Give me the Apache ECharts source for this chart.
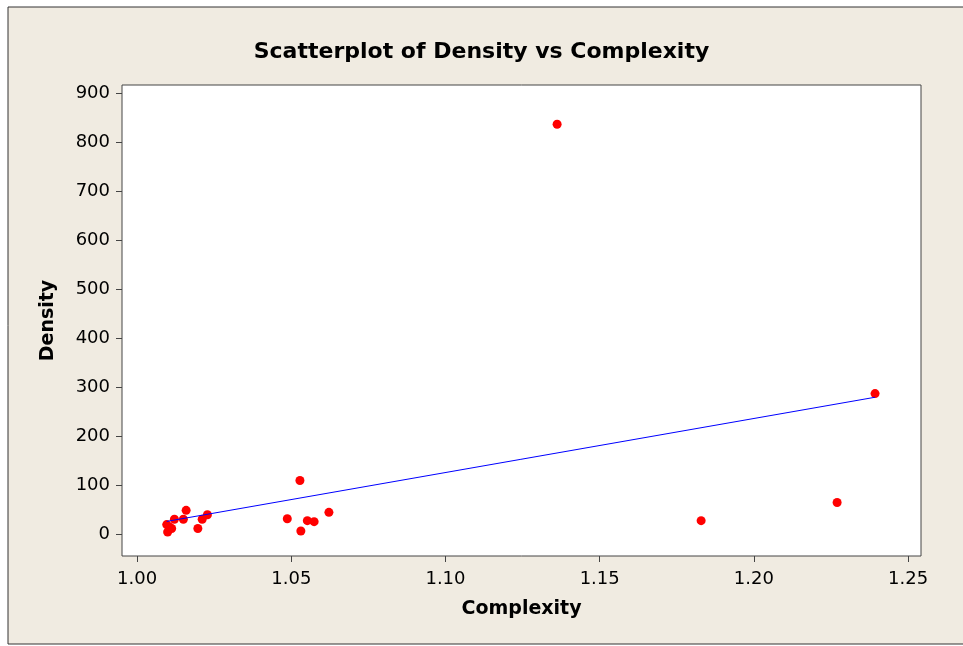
<!DOCTYPE html>
<html>
<head>
<meta charset="utf-8">
<script src="https://cdn.jsdelivr.net/npm/echarts@6/dist/echarts.min.js"></script>
<style>
  html, body { margin: 0; padding: 0; background: #fff; }
  #chart { width: 963px; height: 646px; }
</style>
</head>
<body>
<div id="chart"></div>
<script>
// values
const complexity = [1.0096, 1.0099, 1.0112, 1.0105, 1.0121, 1.0150, 1.0159, 1.0197, 1.0211, 1.0228,
  1.0487, 1.0528, 1.0531, 1.0552, 1.0574, 1.0622, 1.1362, 1.1829, 1.2270, 1.2393]
const density = [20, 5, 12, 15, 31, 31, 49, 12, 31, 40,
  32, 110, 7, 28, 26, 45, 836, 28, 65, 287]
const xTicks = [1.00, 1.05, 1.10, 1.15, 1.20, 1.25]
const yTicks = [0, 100, 200, 300, 400, 500, 600, 700, 800, 900]

// least squares line through the points
function fitLine(xs, ys) {
  let n = xs.length
  let mx = xs.reduce((a, b) => a + b, 0) / n
  let my = ys.reduce((a, b) => a + b, 0) / n
  let sxy = 0
  let sxx = 0
  xs.forEach((x, i) => {
    sxy += (x - mx) * (ys[i] - my)
    sxx += (x - mx) * (x - mx)
  })
  let b = sxy / sxx
  let a = my - b * mx
  let x0 = Math.min(...xs)
  let x1 = Math.max(...xs)
  return [[x0, a + b * x0], [x1, a + b * x1]]
}

const font = 'Tahoma, "DejaVu Sans", sans-serif'
const points = complexity.map((x, i) => [x, density[i]])

const chart = echarts.init(document.getElementById('chart'))
chart.setOption({
  animation: false,
  graphic: [
    {
      type: 'rect',
      z: -10,
      shape: { x: 8, y: 7, width: 962, height: 637 },
      style: { fill: '#f0ebe1', stroke: '#333', lineWidth: 1 }
    }
  ],
  title: {
    text: 'Scatterplot of Density vs Complexity',
    left: 'center',
    top: 36,
    textStyle: { fontFamily: font, fontSize: 22, fontWeight: 'bold', color: '#000' }
  },
  grid: {
    left: 122,
    right: 42,
    top: 85,
    bottom: 90,
    show: true,
    backgroundColor: '#fff',
    borderColor: '#444',
    borderWidth: 1
  },
  xAxis: {
    type: 'value',
    min: 0.9951,
    max: 1.2542,
    name: 'Complexity',
    nameLocation: 'middle',
    nameGap: 44,
    nameTextStyle: { fontFamily: font, fontSize: 19, fontWeight: 'bold', color: '#000' },
    axisLine: { show: false, onZero: false },
    splitLine: { show: false },
    axisTick: { length: 6, lineStyle: { color: '#444' }, customValues: xTicks },
    axisLabel: {
      fontFamily: font, fontSize: 18, color: '#000', margin: 14,
      customValues: xTicks,
      formatter: (v) => v.toFixed(2)
    }
  },
  yAxis: {
    type: 'value',
    min: -44,
    max: 916,
    name: 'Density',
    nameLocation: 'middle',
    nameGap: 64,
    nameTextStyle: { fontFamily: font, fontSize: 19, fontWeight: 'bold', color: '#000' },
    axisLine: { show: false, onZero: false },
    splitLine: { show: false },
    axisTick: { length: 6, lineStyle: { color: '#444' }, customValues: yTicks },
    axisLabel: {
      fontFamily: font, fontSize: 18, color: '#000', margin: 12,
      customValues: yTicks
    }
  },
  series: [
    {
      type: 'line',
      data: fitLine(complexity, density),
      symbol: 'none',
      lineStyle: { color: '#0000ff', width: 1 },
      silent: true
    },
    {
      type: 'scatter',
      data: points,
      symbolSize: 9,
      itemStyle: { color: '#ff0000', opacity: 1 }
    }
  ]
})
</script>
</body>
</html>
